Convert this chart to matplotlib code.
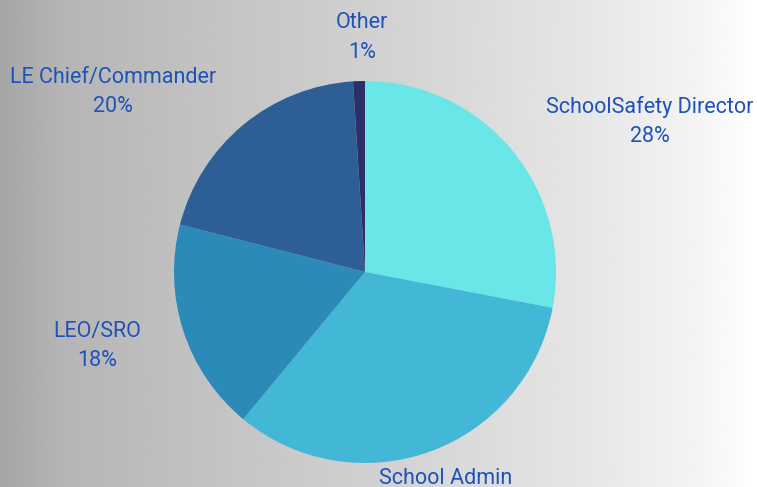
import matplotlib
matplotlib.use("Agg")
import matplotlib.pyplot as plt
import numpy as np

categories = ["SchoolSafety Director", "School Admin", "LEO/SRO", "LE Chief/Commander", "Other"]
values = [28, 33, 18, 20, 1]
colors = ["#6AE5E8", "#42B7D6", "#2B8AB8", "#2D5F96", "#2C3068"]

plt.rcParams['font.family'] = ['Roboto', 'DejaVu Sans']

W, H = 757, 487
fig = plt.figure(figsize=(W / 100, H / 100), dpi=100)

# background gradient
bg = fig.add_axes([0, 0, 1, 1])
x = np.linspace(0, 1, 600)
g = np.interp(x, [0, 0.08, 0.3, 0.5, 0.8, 0.93, 1.0], [0.65, 0.71, 0.77, 0.82, 0.91, 0.96, 1.0])
img = np.tile(g, (2, 1))
bg.imshow(img, cmap="gray", vmin=0, vmax=1, aspect="auto", extent=[0, 1, 0, 1])
bg.set_axis_off()

cx, cy, r = 365, 272, 191
ax = fig.add_axes([(cx - r) / W, (H - cy - r) / H, 2 * r / W, 2 * r / H])
ax.pie(values, colors=colors, startangle=90, counterclock=False,
       wedgeprops=dict(linewidth=0), radius=1)
ax.set_xlim(-1, 1)
ax.set_ylim(-1, 1)
ax.set_aspect("auto")
ax.set_axis_off()

# label positions in pixels (label center, first line)
label_pos = {
    "SchoolSafety Director": (650, 107),
    "School Admin": (446, 478),
    "LEO/SRO": (97, 331),
    "LE Chief/Commander": (113, 77),
    "Other": (362, 22),
}
txtcol = "#1F52B8"
for cat, v in zip(categories, values):
    px, py = label_pos[cat]
    fig.text(px / W, 1 - py / H, cat, ha="center", va="center", fontsize=15.5, color=txtcol)
    fig.text(px / W, 1 - (py + 30) / H, f"{v}%", ha="center", va="center", fontsize=15.5, color=txtcol)

fig.savefig("out.png", dpi=100)
